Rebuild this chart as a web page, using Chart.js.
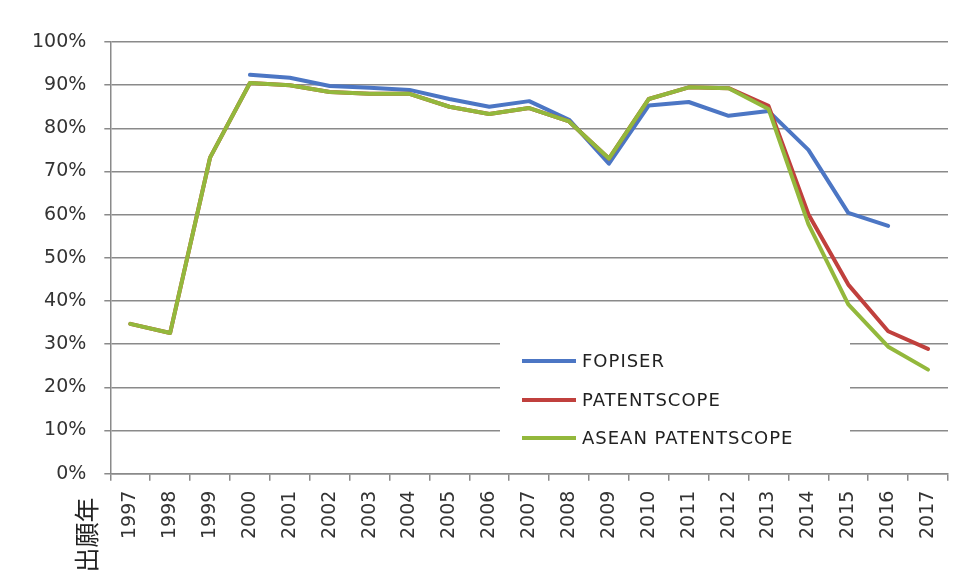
<!DOCTYPE html>
<html>
<head>
<meta charset="utf-8">
<script src="https://cdn.jsdelivr.net/npm/chart.js@4"></script>
<style>
  html, body { margin: 0; padding: 0; background: #fff; }
  #wrap { width: 969px; height: 582px; position: relative; }
</style>
</head>
<body>
<div id="wrap"><canvas id="myChart"></canvas></div>
<script>
// data (percent)
var years = ['1997', '1998', '1999', '2000', '2001', '2002', '2003', '2004', '2005', '2006', '2007',
             '2008', '2009', '2010', '2011', '2012', '2013', '2014', '2015', '2016', '2017'];
var fopiser = [null, null, null, 92.4, 91.7, 89.8, 89.4, 88.9, 86.8, 85.0, 86.3,
               82.0, 71.8, 85.3, 86.1, 82.9, 84.0, 75.0, 60.4, 57.4, null];
var patentscope = [34.7, 32.6, 73.2, 90.5, 90.0, 88.4, 88.0, 88.0, 85.0, 83.3, 84.7,
                   81.6, 73.0, 86.8, 89.5, 89.3, 85.2, 60.1, 43.8, 33.0, 28.9];
var asean = [34.7, 32.6, 73.2, 90.5, 90.0, 88.4, 88.0, 88.0, 85.0, 83.3, 84.7,
             81.6, 73.0, 86.8, 89.5, 89.3, 84.5, 57.8, 39.2, 29.4, 24.1];
var yTicks = [0, 10, 20, 30, 40, 50, 60, 70, 80, 90, 100];
var xTitle = '出願年';

var colors = ['#4C76C4', '#C0403D', '#93B83C'];
var names = ['FOPISER', 'PATENTSCOPE', 'ASEAN PATENTSCOPE'];

var extras = {
    id: 'extras',
    beforeDatasetsDraw: function (chart) {
        var ctx = chart.ctx;
        // legend box inside the plot
        ctx.save();
        ctx.fillStyle = '#fff';
        ctx.fillRect(500, 326, 350, 132);
        ctx.font = '18px "DejaVu Sans"';
        ctx.textBaseline = 'middle';
        ctx.letterSpacing = '1px';
        var rows = [361, 400, 438];
        for (var i = 0; i < names.length; i++) {
            ctx.strokeStyle = colors[i];
            ctx.lineWidth = 4;
            ctx.beginPath();
            ctx.moveTo(522, rows[i]);
            ctx.lineTo(576, rows[i]);
            ctx.stroke();
            ctx.fillStyle = '#222';
            ctx.fillText(names[i], 582, rows[i] + 1);
        }
        ctx.restore();
    },
    afterDraw: function (chart) {
        var ctx = chart.ctx;
        ctx.save();
        ctx.translate(86, 535);
        ctx.rotate(-Math.PI / 2);
        ctx.font = '25px "Noto Sans CJK JP"';
        ctx.fillStyle = '#222';
        ctx.textAlign = 'center';
        ctx.textBaseline = 'middle';
        ctx.fillText(xTitle, 0, 0);
        ctx.restore();
    }
};

var ctx = document.getElementById('myChart').getContext('2d');
var chart = new Chart(ctx, {
    type: 'line',
    data: {
        labels: years,
        datasets: [{
            label: names[0],
            data: fopiser,
            borderColor: colors[0],
            order: 3
        }, {
            label: names[1],
            data: patentscope,
            borderColor: colors[1],
            order: 2
        }, {
            label: names[2],
            data: asean,
            borderColor: colors[2],
            order: 1
        }]
    },
    options: {
        responsive: true,
        maintainAspectRatio: false,
        animation: false,
        elements: {
            line: { borderWidth: 4, tension: 0, borderCapStyle: 'round', borderJoinStyle: 'round' },
            point: { radius: 0, hoverRadius: 0 }
        },
        layout: { padding: { top: 42, left: 14, right: 21, bottom: 33 } },
        plugins: {
            legend: { display: false },
            tooltip: { enabled: false }
        },
        scales: {
            x: {
                offset: true,
                grid: { offset: true, drawOnChartArea: false, tickLength: 7, color: '#8a8a8a', lineWidth: 1.5 },
                border: { color: '#8a8a8a', width: 1.5 },
                ticks: {
                    maxRotation: 90, minRotation: 90, padding: 10,
                    font: { family: 'DejaVu Sans', size: 19 }, color: '#333'
                }
            },
            y: {
                min: 0,
                max: 100,
                afterBuildTicks: function (axis) {
                    axis.ticks = yTicks.map(function (v) { return { value: v }; });
                },
                grid: { color: '#8a8a8a', tickLength: 6, lineWidth: 1.5 },
                border: { color: '#8a8a8a', width: 1.5 },
                ticks: {
                    padding: 18,
                    font: { family: 'DejaVu Sans', size: 19 }, color: '#333',
                    callback: function (v) { return v + '%'; }
                }
            }
        }
    },
    plugins: [extras]
});
</script>
</body>
</html>
